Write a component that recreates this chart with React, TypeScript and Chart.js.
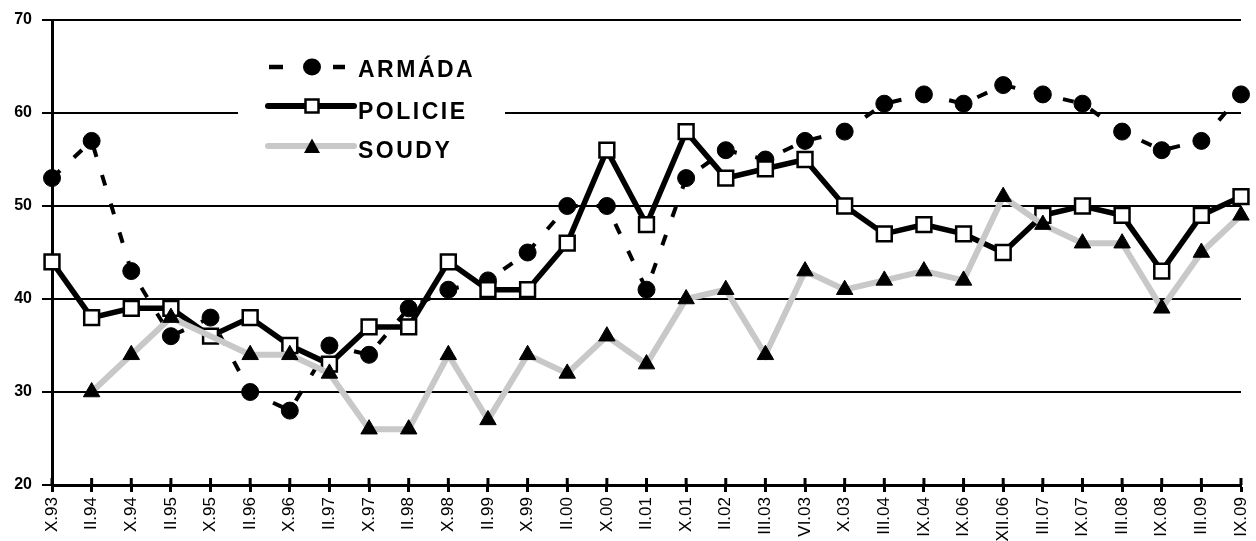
import React, { useEffect, useRef } from "react";
import { Chart, registerables } from "chart.js";

Chart.register(...registerables);

const labels = [
  "X.93", "II.94", "X.94", "II.95", "X.95", "II.96", "X.96", "II.97", "X.97", "II.98",
  "X.98", "II.99", "X.99", "II.00", "X.00", "II.01", "X.01", "II.02", "III.03", "VI.03",
  "X.03", "III.04", "IX.04", "IX.06", "XII.06", "III.07", "IX.07", "III.08", "IX.08", "III.09", "IX.09",
];

const armada = [53, 57, 43, 36, 38, 30, 28, 35, 34, 39, 41, 42, 45, 50, 50, 41, 53, 56, 55, 57, 58, 61, 62, 61, 63, 62, 61, 58, 56, 57, 62];
const policie = [44, 38, 39, 39, 36, 38, 35, 33, 37, 37, 44, 41, 41, 46, 56, 48, 58, 53, 54, 55, 50, 47, 48, 47, 45, 49, 50, 49, 43, 49, 51];
const soudy = [null, 30, 34, 38, null, 34, 34, 32, 26, 26, 34, 27, 34, 32, 36, 33, 40, 41, 34, 43, 41, 42, 43, 42, 51, 48, 46, 46, 39, 45, 49];

const seriesNames = ["ARMÁDA", "POLICIE", "SOUDY"];
const yMin = 20;
const yMax = 70;
const yStep = 10;

const FONT = "'Liberation Sans', Arial, Helvetica, sans-serif";
const GRAY = "#c8c8c8";

const legendPlugin = {
  id: "boxLegend",
  beforeDatasetsDraw(chart: any) {
    const ctx = chart.ctx;
    ctx.save();
    ctx.fillStyle = "#ffffff";
    ctx.fillRect(238, 42, 267, 128);
    ctx.restore();
  },
  afterDraw(chart: any) {
    const ctx = chart.ctx;
    const xs = chart.scales.x;
    const bottom = chart.chartArea.bottom;
    ctx.save();
    // inner part of crossing x ticks
    ctx.strokeStyle = "#000";
    ctx.lineWidth = 3;
    for (let i = 0; i < labels.length; i++) {
      const px = xs.getPixelForTick(i);
      ctx.beginPath();
      ctx.moveTo(px, bottom - 7);
      ctx.lineTo(px, bottom);
      ctx.stroke();
    }

    const sx0 = 268;
    const sx1 = 354;
    const mx = 312;
    const rows = [67, 106, 146];
    const baselines = [77, 119, 158];

    // ARMÁDA: dashes and a circle
    ctx.lineWidth = 4.5;
    ctx.lineCap = "butt";
    ctx.beginPath();
    ctx.moveTo(sx0 + 1, rows[0]);
    ctx.lineTo(283, rows[0]);
    ctx.moveTo(333, rows[0]);
    ctx.lineTo(345, rows[0]);
    ctx.stroke();
    ctx.fillStyle = "#000";
    ctx.beginPath();
    ctx.ellipse(mx, rows[0], 9, 8.5, 0, 0, Math.PI * 2);
    ctx.fill();

    // POLICIE: thick line and white square
    ctx.lineWidth = 6;
    ctx.lineCap = "round";
    ctx.beginPath();
    ctx.moveTo(sx0, rows[1]);
    ctx.lineTo(sx1, rows[1]);
    ctx.stroke();
    ctx.fillStyle = "#fff";
    ctx.fillRect(mx - 6.5, rows[1] - 6.5, 13, 13);
    ctx.lineWidth = 2.5;
    ctx.strokeRect(mx - 6.5, rows[1] - 6.5, 13, 13);

    // SOUDY: gray line and triangle
    ctx.strokeStyle = GRAY;
    ctx.lineWidth = 6;
    ctx.beginPath();
    ctx.moveTo(sx0, rows[2]);
    ctx.lineTo(sx1, rows[2]);
    ctx.stroke();
    ctx.fillStyle = "#000";
    ctx.beginPath();
    ctx.moveTo(mx, rows[2] - 7.5);
    ctx.lineTo(mx + 8, rows[2] + 7);
    ctx.lineTo(mx - 8, rows[2] + 7);
    ctx.closePath();
    ctx.fill();

    // text
    ctx.fillStyle = "#000";
    ctx.font = `bold 23px ${FONT}`;
    ctx.textAlign = "left";
    ctx.textBaseline = "alphabetic";
    try {
      (ctx as any).letterSpacing = "2.5px";
    } catch (e) {}
    for (let i = 0; i < seriesNames.length; i++) {
      ctx.fillText(seriesNames[i], 358, baselines[i]);
    }
    try {
      (ctx as any).letterSpacing = "0px";
    } catch (e) {}
    ctx.restore();
  },
};

export default function App() {
  const canvasRef = useRef<HTMLCanvasElement | null>(null);

  useEffect(() => {
    const canvas = canvasRef.current;
    if (!canvas) return;
    const chart = new Chart(canvas, {
      type: "line",
      data: {
        labels,
        datasets: [
          {
            label: seriesNames[0],
            data: armada,
            order: 3,
            borderColor: "#000",
            borderWidth: 4,
            borderDash: [11, 19],
            backgroundColor: "#000",
            pointStyle: "circle",
            pointRadius: 8.5,
            pointBorderWidth: 1,
            pointBorderColor: "#000",
            pointBackgroundColor: "#000",
            tension: 0,
            fill: false,
          },
          {
            label: seriesNames[1],
            data: policie,
            order: 2,
            borderColor: "#000",
            borderWidth: 5.5,
            backgroundColor: "#fff",
            pointStyle: "rect",
            pointRadius: 10.5,
            pointBorderWidth: 2.5,
            pointBorderColor: "#000",
            pointBackgroundColor: "#fff",
            tension: 0,
            fill: false,
          },
          {
            label: seriesNames[2],
            data: soudy,
            order: 1,
            spanGaps: true,
            borderColor: GRAY,
            borderWidth: 6,
            backgroundColor: "#000",
            pointStyle: "triangle",
            pointRadius: 9.5,
            pointBorderWidth: 1,
            pointBorderColor: "#000",
            pointBackgroundColor: "#000",
            tension: 0,
            fill: false,
          },
        ],
      },
      options: {
        responsive: false,
        animation: false,
        events: [],
        layout: { padding: { left: 0, top: 20, right: 15, bottom: 0 } },
        plugins: {
          legend: { display: false },
          tooltip: { enabled: false },
          title: { display: false },
        },
        scales: {
          x: {
            type: "category",
            offset: false,
            grid: {
              display: true,
              drawOnChartArea: false,
              drawTicks: true,
              tickLength: 7,
              tickWidth: 3,
              tickColor: "#000",
              color: "#000",
            },
            border: { display: true, color: "#000", width: 3 },
            ticks: {
              autoSkip: false,
              minRotation: 90,
              maxRotation: 90,
              padding: 5,
              color: "#000",
              font: { family: FONT, size: 17 },
            },
            afterFit: (scale: any) => {
              scale.height = 56;
              scale.paddingLeft = 0;
              scale.paddingRight = 0;
            },
          },
          y: {
            type: "linear",
            min: yMin,
            max: yMax,
            grid: {
              display: true,
              drawOnChartArea: true,
              drawTicks: true,
              tickLength: 10,
              color: "#000",
              lineWidth: 2,
              tickColor: "#000",
              tickWidth: 2,
            },
            border: { display: true, color: "#000", width: 3 },
            ticks: {
              stepSize: yStep,
              padding: 10,
              color: "#000",
              font: { family: FONT, size: 16, weight: "bold" },
            },
            afterFit: (scale: any) => {
              scale.width = 52;
            },
          },
        },
      },
      plugins: [legendPlugin],
    } as any);
    return () => {
      chart.destroy();
    };
  }, []);

  return (
    <div style={{ position: "fixed", left: 0, top: 0, width: 1256, height: 541, background: "#fff" }}>
      <canvas ref={canvasRef} width={1256} height={541} style={{ display: "block", width: 1256, height: 541 }} />
    </div>
  );
}
